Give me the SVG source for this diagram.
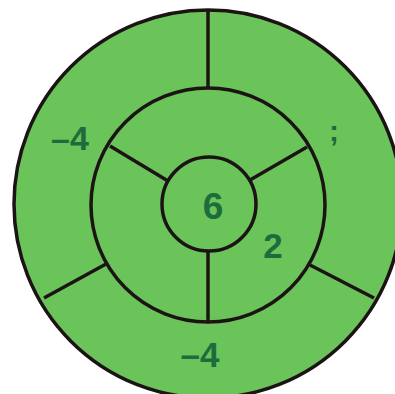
<svg xmlns="http://www.w3.org/2000/svg" width="395" height="394" viewBox="0 0 395 394">
<style>
.ring{fill:#6bc45a;stroke:#1c1414;stroke-width:3.5}
.ln{stroke:#1c1414;stroke-width:3.5;fill:none}
.t{font-family:"Liberation Sans",Arial,sans-serif;font-weight:bold;fill:#1e6b3c;text-anchor:middle}
</style>
<rect width="395" height="394" fill="#ffffff"/>
<g id="outer"><circle class="ring" cx="208" cy="204" r="194"/></g>
<g id="middle"><circle class="ring" cx="208" cy="205" r="117"/></g>
<g id="inner"><circle class="ring" cx="209" cy="204" r="47"/></g>
<g id="connectors">
<line class="ln" x1="208" y1="10" x2="208" y2="88"/>
<line class="ln" x1="44" y1="298" x2="106" y2="264"/>
<line class="ln" x1="310" y1="265" x2="374" y2="298"/>
<line class="ln" x1="110" y1="146" x2="168" y2="181"/>
<line class="ln" x1="307" y1="147" x2="250" y2="180"/>
<line class="ln" x1="208" y1="251" x2="208" y2="322"/>
</g>
<g id="labels">
<text class="t" x="70" y="150" font-size="34">–4</text>
<text class="t" x="200" y="367" font-size="35">–4</text>
<text class="t" x="213" y="219" font-size="37">6</text>
<text class="t" x="273" y="258" font-size="35">2</text>
<text class="t" x="334" y="141" font-size="30">;</text>
</g>
</svg>
